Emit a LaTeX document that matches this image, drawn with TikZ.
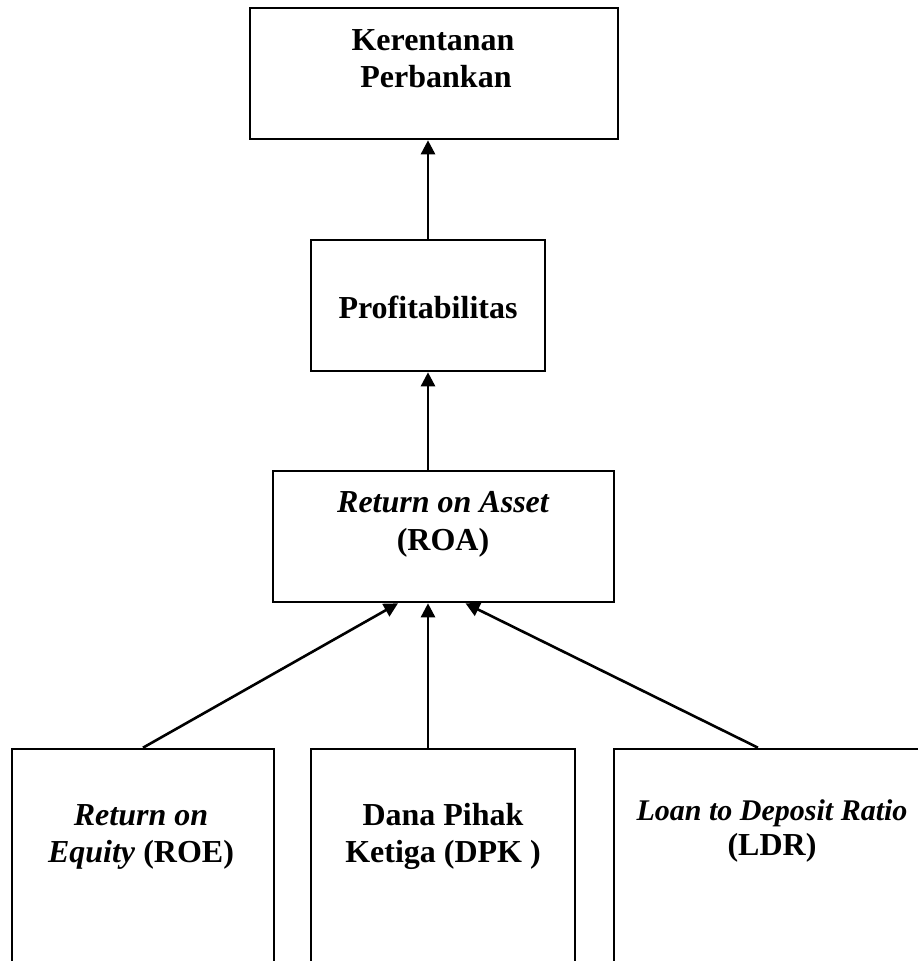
\documentclass[tikz,border=0pt]{standalone}
\usepackage{fontspec}
\setmainfont{Liberation Serif}
\usetikzlibrary{arrows.meta,calc}
\begin{document}
\begin{tikzpicture}[x=1pt,y=-1pt,
  box/.style={draw,line width=2.6pt,inner sep=0pt},
  txt/.style={inner sep=0pt,anchor=base,font=\fontsize{32}{37}\selectfont\bfseries},
  arr/.style={line width=2.6pt,-{Triangle[length=14pt,width=14pt]}}]
\useasboundingbox (0,0) rectangle (918,961);
\clip (0,0) rectangle (918,961);
% boxes
\node[box,minimum width=368pt,minimum height=131pt] (ker) at (434,73.5) {};
\node[box,minimum width=234pt,minimum height=131pt] (prof) at (428,305.5) {};
\node[box,minimum width=341pt,minimum height=131pt] (roa) at (443.5,536.5) {};
\node[box,minimum width=262pt,minimum height=260pt] (roe) at (143,879) {};
\node[box,minimum width=264pt,minimum height=260pt] (dpk) at (443,879) {};
\node[box,minimum width=316pt,minimum height=260pt] (ldr) at (772,879) {};
% texts
\node[txt] (kerA) at (433,50) {Kerentanan};
\node[txt] (kerB) at (436,87) {Perbankan};
\node[txt] (profA) at (428,318) {Profitabilitas};
\node[txt] (roaA) at (443,512) {\itshape Return on Asset};
\node[txt] (roaB) at (443,550) {(ROA)};
\node[txt] (roeA) at (141,825) {\itshape Return on};
\node[txt] (roeB) at (141,862) {\textit{Equity} (ROE)};
\node[txt] (dpkA) at (443,825) {Dana Pihak};
\node[txt] (dpkB) at (443,862) {Ketiga (DPK )};
\node[txt,font=\fontsize{30}{35}\selectfont\bfseries] (ldrA) at (772,820) {\itshape Loan to Deposit Ratio};
\node[txt] (ldrB) at (772,855) {(LDR)};
% connector end points
\coordinate (roaL) at ($(roa.south)+(-45.5,0)$);
\coordinate (roaR) at ($(roa.south)+(22,0)$);
\coordinate (ldrT) at ($(ldr.north)+(-14,0)$);
% arrows
\draw[arr] (prof.north) -- (prof.north |- ker.south);
\draw[arr] (roa.north -| prof.south) -- (prof.south);
\draw[arr] (dpk.north -| prof.south) -- (roa.south -| prof.south);
\draw[arr] (roe.north) -- (roaL);
\draw[arr] (ldrT) -- (roaR);
\end{tikzpicture}
\end{document}
